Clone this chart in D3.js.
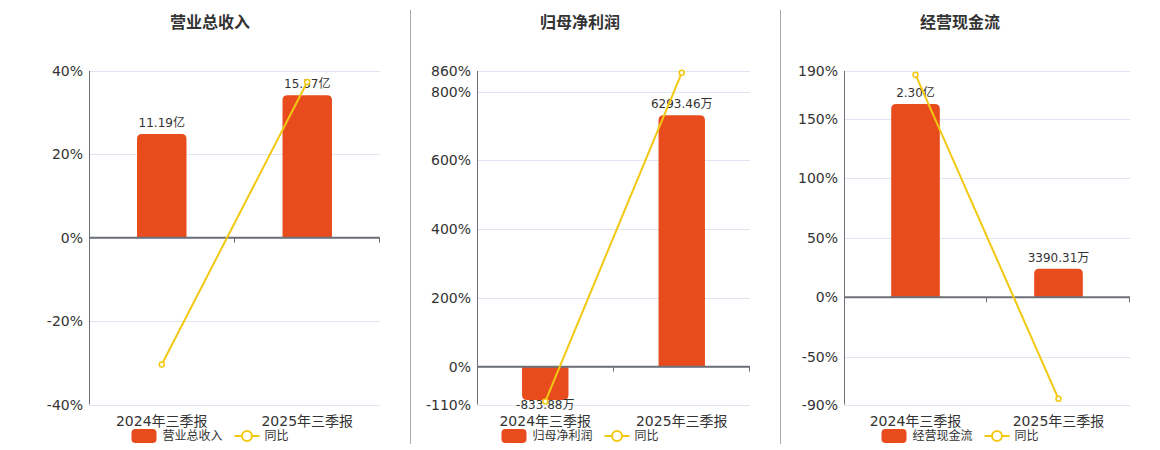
<!DOCTYPE html>
<html>
<head>
<meta charset="utf-8">
<script src="https://cdn.jsdelivr.net/npm/d3@7"></script>
<style>
  html, body { margin: 0; padding: 0; background: #fff; }
  svg { display: block; font-family: "DejaVu Sans", "Noto Sans CJK SC", sans-serif; }
</style>
</head>
<body>
<svg id="chart" width="1160" height="450"></svg>
<script>
// ---- data ----
const categories = ["2024年三季报", "2025年三季报"];
const titles = ["营业总收入", "归母净利润", "经营现金流"];
const legendNames = ["营业总收入", "归母净利润", "经营现金流"];
const lineName = "同比";
const revenueBars = [11.19, 15.37];          // 亿
const profitBars = [-833.88, 6293.46];       // 万
const cashBars = [23000, 3390.31];           // 万
const revenueLabels = ["11.19亿", "15.37亿"];
const profitLabels = ["-833.88万", "6293.46万"];
const cashLabels = ["2.30亿", "3390.31万"];
const revenueYoy = [-30.4, 37.35];
const profitYoy = [-101.5, 854.7];
const cashYoy = [186.9, -85.26];
const revenueTicks = [-40, -20, 0, 20, 40];
const profitTicks = [-110, 0, 200, 400, 600, 800, 860];
const cashTicks = [-90, -50, 0, 50, 100, 150, 190];
const barAxisMax = [18, 7400, 26930];

// ---- layout / style ----
const panels = [
  { title: titles[0], legend: legendNames[0], bars: revenueBars, labels: revenueLabels, yoy: revenueYoy, ticks: revenueTicks, barMax: barAxisMax[0], left: 89, right: 380, center: 210 },
  { title: titles[1], legend: legendNames[1], bars: profitBars, labels: profitLabels, yoy: profitYoy, ticks: profitTicks, barMax: barAxisMax[1], left: 477, right: 750, center: 580 },
  { title: titles[2], legend: legendNames[2], bars: cashBars, labels: cashLabels, yoy: cashYoy, ticks: cashTicks, barMax: barAxisMax[2], left: 844, right: 1130, center: 960 }
];
const TOP = 71, BOTTOM = 404.5;
const BAR_COLOR = "#E84C1D";
const LINE_COLOR = "#F2C811";
const AXIS_COLOR = "#6E7079";
const GRID_COLOR = "#E0E6F1";
const TEXT_COLOR = "#333";

const svg = d3.select("#chart");

// separators
[410.5, 780.5].forEach(x => {
  svg.append("line").attr("x1", x).attr("x2", x).attr("y1", 10).attr("y2", 444)
    .attr("stroke", "#aaa").attr("stroke-width", 1);
});

function barPath(x, w, y0, y1, r) {
  const h = Math.abs(y1 - y0);
  r = Math.min(r, h, w / 2);
  if (y1 <= y0) {
    return `M${x},${y0}L${x},${y1 + r}Q${x},${y1} ${x + r},${y1}L${x + w - r},${y1}Q${x + w},${y1} ${x + w},${y1 + r}L${x + w},${y0}Z`;
  } else {
    return `M${x},${y0}L${x},${y1 - r}Q${x},${y1} ${x + r},${y1}L${x + w - r},${y1}Q${x + w},${y1} ${x + w},${y1 - r}L${x + w},${y0}Z`;
  }
}

panels.forEach(p => {
  const g = svg.append("g");
  const dMin = d3.min(p.ticks), dMax = d3.max(p.ticks);
  const y = d3.scaleLinear().domain([dMin, dMax]).range([BOTTOM, TOP]);
  const yBar = d3.scaleLinear().domain([p.barMax * dMin / dMax, p.barMax]).range([BOTTOM, TOP]);
  const x = d3.scaleBand().domain(categories).range([p.left, p.right]).paddingInner(0.66).paddingOuter(0.33);
  const step = x.step();
  const y0 = y(0);

  // title
  g.append("text").attr("x", p.center).attr("y", 28).attr("text-anchor", "middle")
    .attr("font-size", 16).attr("font-weight", "bold").attr("fill", TEXT_COLOR)
    .attr("font-family", "'Noto Sans CJK SC', sans-serif")
    .text(p.title);

  // gridlines
  g.selectAll(".grid").data(p.ticks).enter().append("line")
    .attr("x1", p.left).attr("x2", p.right)
    .attr("y1", d => Math.round(y(d)) + 0.5).attr("y2", d => Math.round(y(d)) + 0.5)
    .attr("stroke", GRID_COLOR).attr("stroke-width", 1);

  // y axis labels
  g.selectAll(".ylab").data(p.ticks).enter().append("text")
    .attr("x", p.left - 6).attr("y", d => y(d)).attr("dy", "0.36em")
    .attr("text-anchor", "end").attr("font-size", 14).attr("fill", TEXT_COLOR)
    .text(d => d + "%");

  // bars
  g.selectAll(".bar").data(p.bars).enter().append("path")
    .attr("d", (d, i) => barPath(x(categories[i]), x.bandwidth(), y0, yBar(d), 5))
    .attr("fill", BAR_COLOR);

  // bar labels
  g.selectAll(".blab").data(p.bars).enter().append("text")
    .attr("x", (d, i) => x(categories[i]) + x.bandwidth() / 2)
    .attr("y", d => d >= 0 ? yBar(d) - 7 : yBar(d) + 9)
    .attr("text-anchor", "middle").attr("font-size", 12).attr("fill", TEXT_COLOR)
    .text((d, i) => p.labels[i]);

  // y axis line
  g.append("line").attr("x1", p.left + 0.5).attr("x2", p.left + 0.5).attr("y1", TOP).attr("y2", BOTTOM)
    .attr("stroke", AXIS_COLOR).attr("stroke-width", 1);

  // zero axis line
  g.append("line").attr("x1", p.left).attr("x2", p.right).attr("y1", y0).attr("y2", y0)
    .attr("stroke", AXIS_COLOR).attr("stroke-width", 2);
  // x ticks at band boundaries
  [1, 2].forEach(k => {
    const tx = Math.round(p.left + step * k) - 0.5;
    g.append("line").attr("x1", tx).attr("x2", tx).attr("y1", y0).attr("y2", y0 + 5)
      .attr("stroke", AXIS_COLOR).attr("stroke-width", 1);
  });

  // category labels
  g.selectAll(".xlab").data(categories).enter().append("text")
    .attr("x", d => x(d) + x.bandwidth() / 2).attr("y", BOTTOM + 21)
    .attr("text-anchor", "middle").attr("font-size", 14).attr("fill", TEXT_COLOR)
    .text(d => d);

  // yoy line
  const pts = p.yoy.map((v, i) => [x(categories[i]) + x.bandwidth() / 2, y(v)]);
  g.append("path").attr("d", d3.line()(pts)).attr("fill", "none")
    .attr("stroke", LINE_COLOR).attr("stroke-width", 2);
  g.selectAll(".pt").data(pts).enter().append("circle")
    .attr("cx", d => d[0]).attr("cy", d => d[1]).attr("r", 2.5)
    .attr("fill", "#fff").attr("stroke", LINE_COLOR).attr("stroke-width", 1.5);

  // legend
  const lx = p.center - 78.5, ly = 436;
  const lg = g.append("g");
  lg.append("rect").attr("x", lx).attr("y", ly - 7).attr("width", 25).attr("height", 14)
    .attr("rx", 4).attr("fill", BAR_COLOR);
  lg.append("text").attr("x", lx + 31).attr("y", ly).attr("dy", "0.36em")
    .attr("font-size", 12).attr("fill", TEXT_COLOR)
    .attr("font-family", "'Noto Sans CJK SC', sans-serif").text(p.legend);
  const l2 = lx + 31 + 60 + 12;
  lg.append("line").attr("x1", l2).attr("x2", l2 + 25).attr("y1", ly).attr("y2", ly)
    .attr("stroke", LINE_COLOR).attr("stroke-width", 2);
  lg.append("circle").attr("cx", l2 + 12.5).attr("cy", ly).attr("r", 5)
    .attr("fill", "#fff").attr("stroke", LINE_COLOR).attr("stroke-width", 2);
  lg.append("text").attr("x", l2 + 30).attr("y", ly).attr("dy", "0.36em")
    .attr("font-size", 12).attr("fill", TEXT_COLOR)
    .attr("font-family", "'Noto Sans CJK SC', sans-serif").text(lineName);
});
</script>
</body>
</html>
